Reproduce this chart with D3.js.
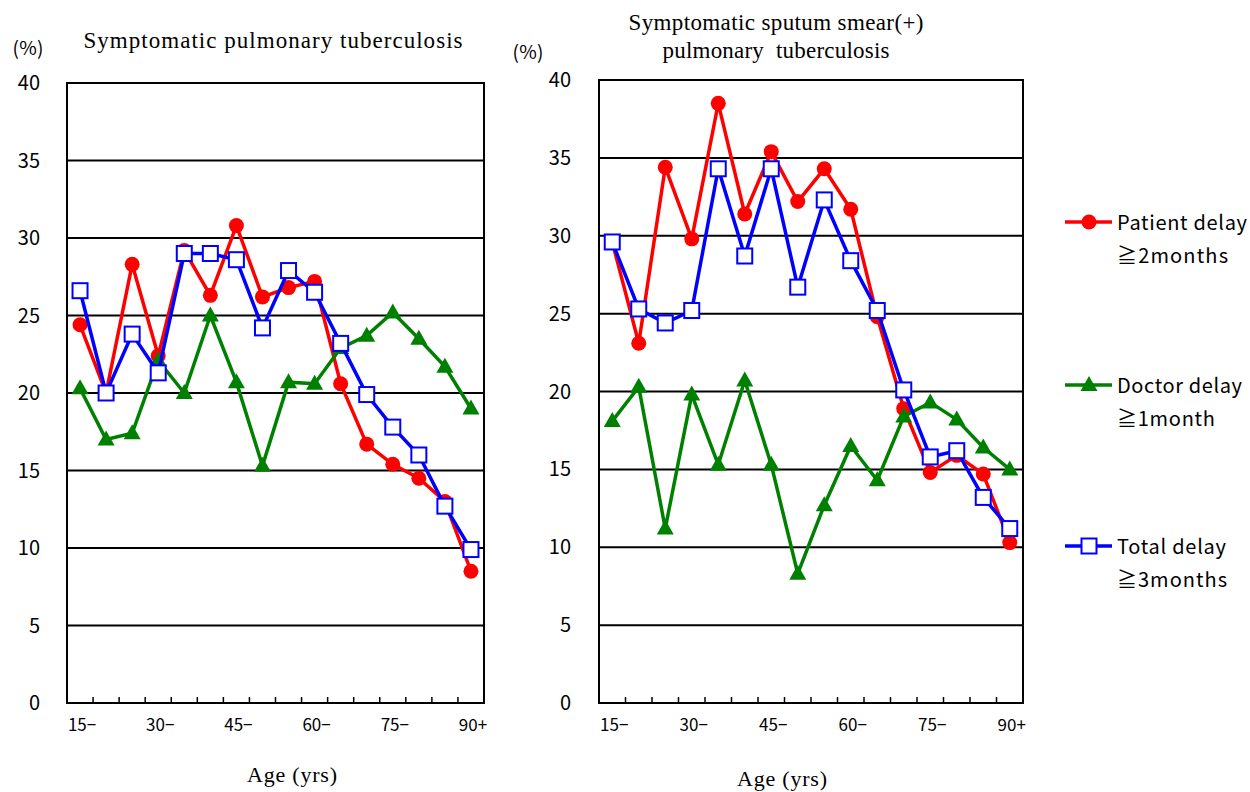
<!DOCTYPE html>
<html><head><meta charset="utf-8">
<script src="https://cdn.jsdelivr.net/npm/d3@7"></script>
<style>body{margin:0;background:#fff}svg{display:block}</style>
</head><body><svg id="c" width="1250" height="792"></svg>
<script>
const ages = ["15","20","25","30","35","40","45","50","55","60","65","70","75","80","85","90"];
const tickLabels = {"15":"15−","30":"30−","45":"45−","60":"60−","75":"75−","90":"90+"};
const yTicks = [0,5,10,15,20,25,30,35,40];

// Left: Symptomatic pulmonary tuberculosis
const leftPatient = [24.4,20.0,28.3,22.4,29.2,26.3,30.8,26.2,26.8,27.2,20.6,16.7,15.4,14.5,13.0,8.5];
const leftDoctor  = [20.3,17.0,17.4,22.1,20.0,25.0,20.7,15.3,20.7,20.6,22.9,23.7,25.2,23.5,21.7,19.0];
const leftTotal   = [26.6,20.0,23.8,21.3,29.0,29.0,28.6,24.2,27.9,26.5,23.2,19.9,17.8,16.0,12.7,9.9];

// Right: Symptomatic sputum smear(+) pulmonary tuberculosis
const rightPatient = [29.6,23.1,34.4,29.8,38.5,31.4,35.4,32.2,34.3,31.7,24.8,18.9,14.8,15.9,14.7,10.3];
const rightDoctor  = [18.1,20.3,11.2,19.8,15.3,20.7,15.3,8.3,12.7,16.5,14.3,18.4,19.3,18.2,16.4,15.0];
const rightTotal   = [29.6,25.3,24.4,25.2,34.3,28.7,34.3,26.7,32.3,28.4,25.2,20.1,15.8,16.2,13.2,11.2];

const seriesNames = ["Patient delay","Doctor delay","Total delay"];
const seriesSub = ["≧2months","≧1month","≧3months"];
const colors = ["#ff0000","#008000","#0000ff"];
const shapes = ["circle","triangle","square"];

const svg = d3.select("#c");
const sans = "'Noto Sans CJK JP','Noto Sans',sans-serif";
const serif = "'Liberation Serif','Times New Roman',serif";

function marker(g, shape, color, x, y){
  if(shape==="circle"){
    g.append("circle").attr("cx",x).attr("cy",y).attr("r",7.5).attr("fill",color);
  } else if(shape==="triangle"){
    g.append("path").attr("d",`M${x},${y-9}L${x+8.5},${y+6}L${x-8.5},${y+6}Z`).attr("fill",color);
  } else {
    g.append("rect").attr("x",x-7.5).attr("y",y-7.5).attr("width",15).attr("height",15)
      .attr("fill","#fff").attr("stroke",color).attr("stroke-width",2);
  }
}

function panel(cfg){
  const {left,right,top,bottom,data,labelRight} = cfg;
  const x = d3.scaleBand().domain(ages).range([left,right]).padding(0);
  const y = d3.scaleLinear().domain([0,40]).range([bottom,top]);
  const g = svg.append("g");
  g.selectAll("line.grid").data(yTicks.filter(t=>t>0&&t<40)).enter().append("line")
    .attr("x1",left).attr("x2",right).attr("y1",d=>y(d)).attr("y2",d=>y(d))
    .attr("stroke","#000").attr("stroke-width",2);
  g.append("rect").attr("x",left).attr("y",top).attr("width",right-left).attr("height",bottom-top)
    .attr("fill","none").attr("stroke","#000").attr("stroke-width",2);
  g.selectAll("line.xt").data(ages.slice(1)).enter().append("line")
    .attr("x1",d=>x(d)).attr("x2",d=>x(d)).attr("y1",bottom).attr("y2",bottom-6)
    .attr("stroke","#000").attr("stroke-width",1.5);
  g.selectAll("text.yl").data(yTicks).enter().append("text")
    .attr("x",labelRight).attr("y",d=>y(d)).attr("dy","0.35em").attr("text-anchor","end")
    .attr("font-family",sans).attr("font-size",20).text(d=>d);
  g.selectAll("text.xl").data(ages.filter(a=>tickLabels[a])).enter().append("text")
    .attr("x",d=>x(d)+x.bandwidth()/2+2).attr("y",bottom+22).attr("dy","0.35em").attr("text-anchor","middle")
    .attr("font-family",sans).attr("font-size",17).text(d=>tickLabels[d]);
  const cx = d=>x(d)+x.bandwidth()/2;
  data.forEach((vals,i)=>{
    const line = d3.line().x((d,j)=>cx(ages[j])).y(d=>y(d));
    g.append("path").attr("d",line(vals)).attr("fill","none").attr("stroke",colors[i]).attr("stroke-width",3.5);
    vals.forEach((v,j)=>marker(g,shapes[i],colors[i],cx(ages[j]),y(v)));
  });
}

panel({left:67,right:484,top:83,bottom:703,labelRight:40,data:[leftPatient,leftDoctor,leftTotal]});
panel({left:599,right:1023,top:80,bottom:703,labelRight:571,data:[rightPatient,rightDoctor,rightTotal]});

function txt(x,y,s,family,size,len,anchor){
  const t = svg.append("text").attr("x",x).attr("y",y).attr("text-anchor",anchor||"middle")
    .attr("font-family",family).attr("font-size",size).style("white-space","pre").text(s);
  if(len) t.attr("textLength",len).attr("lengthAdjust","spacing");
  return t;
}
// titles
txt(273,48,"Symptomatic pulmonary tuberculosis",serif,23,379);
txt(776,30,"Symptomatic sputum smear(+)",serif,23,295);
txt(776,58,"pulmonary  tuberculosis",serif,23,227);
// unit
txt(28,55,"(%)",sans,19,31);
txt(528,59,"(%)",sans,19,31);
// x titles
txt(292,782,"Age (yrs)",serif,22,90);
txt(782,786,"Age (yrs)",serif,22,90);

// legend
const legY = [222,385,546];
const nameLen = [130,125,109];
const subLen = [111,98,110];
const lg = svg.append("g");
seriesNames.forEach((n,i)=>{
  lg.append("line").attr("x1",1065).attr("x2",1112).attr("y1",legY[i]).attr("y2",legY[i]).attr("stroke",colors[i]).attr("stroke-width",3.5);
  marker(lg,shapes[i],colors[i],1089,legY[i]);
  txt(1117,legY[i]+8,n,sans,20,nameLen[i],"start");
  txt(1117,legY[i]+41,seriesSub[i],sans,20,subLen[i],"start");
});
</script></body></html>
